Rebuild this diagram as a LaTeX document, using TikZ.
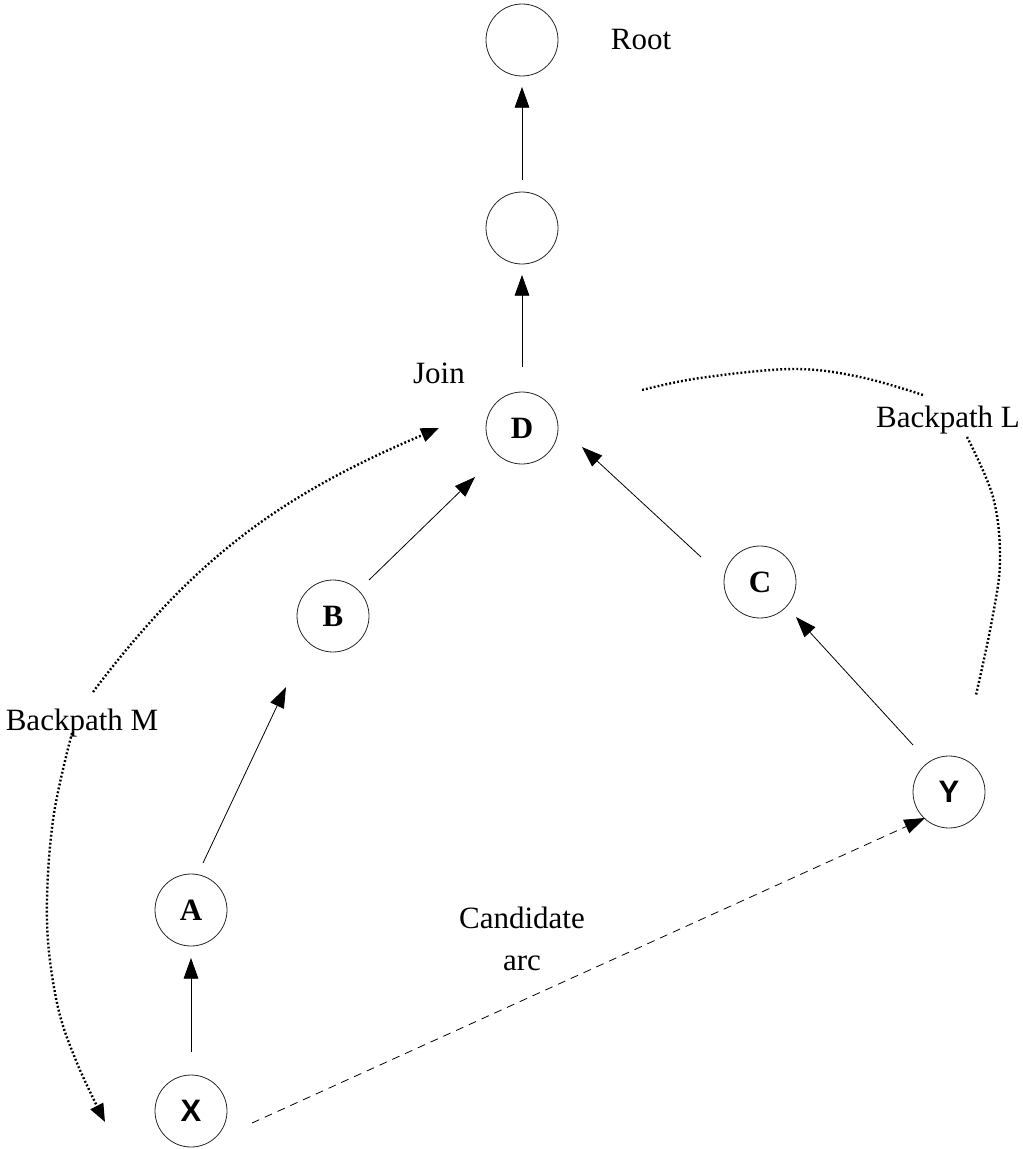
\documentclass[tikz,border=0pt]{standalone}
\usepackage{fontspec}
\setmainfont{Liberation Serif}
\newfontfamily\arialfont{Liberation Sans}
\usetikzlibrary{arrows.meta,calc}

\begin{document}
\begin{tikzpicture}[x=0.75pt,y=-0.75pt,
  vertex/.style={circle, draw=black!85, line width=0.6pt, minimum size=54pt,
    inner sep=0pt, font=\fontsize{23.25}{28}\selectfont\bfseries},
  sansvertex/.style={vertex, font=\fontsize{23.25}{28}\selectfont\arialfont\bfseries},
  lbl/.style={font=\fontsize{23.25}{31.5}\selectfont, inner sep=0pt},
  tip/.style={-{Triangle[length=15.5pt,width=11pt]}},
  tree/.style={line width=0.6pt, tip},
  cand/.style={line width=0.6pt, dash pattern=on 6pt off 4.5pt, tip},
  back/.style={line width=1.8pt, dash pattern=on 1.4pt off 1.6pt},
  backtip/.style={-{Triangle[length=13.5pt,width=10.5pt]}},
]
\useasboundingbox (0,0) rectangle (1022,1149);

% nodes of the tree
\node[vertex] (R) at (522,40) {};
\node[vertex] (S) at (522,228) {};
\node[vertex] (D) at (522,428) {D};
\node[vertex] (B) at (333,616) {B};
\node[vertex] (C) at (760,582) {C};
\node[sansvertex] (Y) at (949,792) {Y};
\node[vertex] (A) at (191,910) {A};
\node[sansvertex] (X) at (191,1111) {X};

% labels
\node[lbl, anchor=base] (rootlbl) at (641,50) {Root};
\node[lbl, anchor=base] (joinlbl) at (439,383) {Join};
\node[lbl, anchor=base] (bpm) at (82,730) {Backpath M};
\node[lbl, anchor=base] (bpl) at (948,427) {Backpath L};
\node[lbl, align=center] (candlbl) at (522,939) {Candidate\\arc};

% parent links
\draw[tree] ($(S)+(0,-48)$) -- ($(R)+(0,47)$);
\draw[tree] ($(D)+(0,-61)$) -- ($(S)+(0,47)$);
\draw[tree] ($(B)+(36,-36)$) -- ($(D)+(-47,49)$);
\draw[tree] ($(C)+(-59,-25)$) -- ($(D)+(60,19)$);
\draw[tree] ($(Y)+(-36,-47)$) -- ($(C)+(36,35)$);
\draw[tree] ($(A)+(12,-47)$) -- ($(B)+(-47,71)$);
\draw[tree] ($(X)+(0,-59)$) -- ($(A)+(0,48)$);

% candidate arc
\draw[cand] ($(X)+(61,12)$) -- ($(Y)+(-24,26)$);

% backpath M, broken around its label
\coordinate (m1) at (93,692);
\coordinate (m2) at ($(D)+(-83,0)$);
\coordinate (m3) at (72,733);
\coordinate (m4) at (105,1122);
\draw[back, backtip] (m1) to[out=53, in=203] (m2);
\draw[back, backtip] plot[smooth, tension=0.6] coordinates
  {(m3) (53,820) (47,920) (57,1003) (77,1063) (m4)};

% backpath L, broken around its label
\draw[back] plot[smooth, tension=0.6] coordinates
  {(642,390) (700,378) (793,369) (860,377) (923,395)};
\draw[back] plot[smooth, tension=0.6] coordinates
  {(967,437) (993,497) (1000,560) (992,620) (976,695)};
\end{tikzpicture}
\end{document}
